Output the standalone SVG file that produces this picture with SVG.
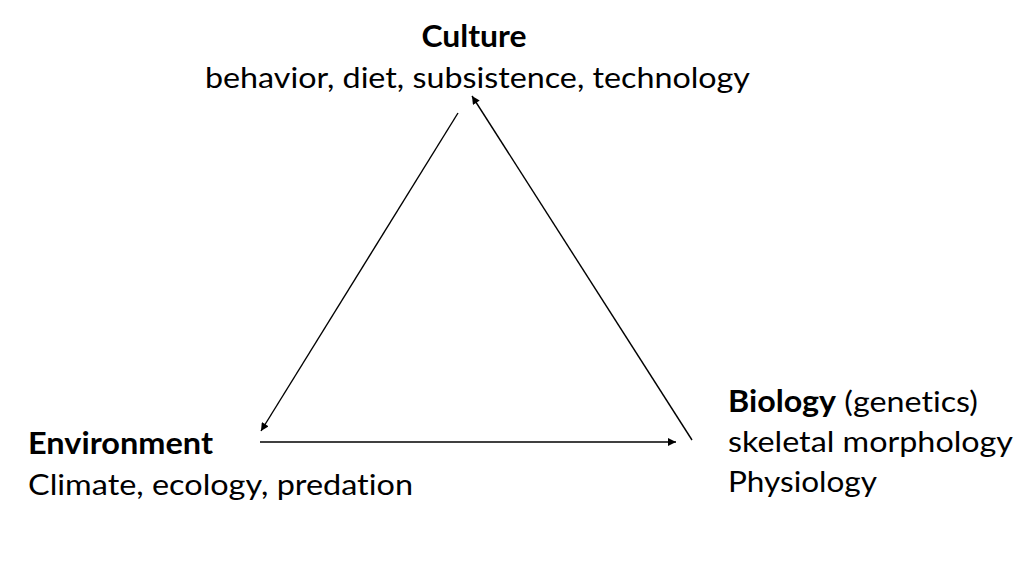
<svg xmlns="http://www.w3.org/2000/svg" width="1017" height="568" viewBox="0 0 1017 568">
<style>
text{font-family:Lato,"Open Sans","Liberation Sans",sans-serif;font-size:29.5px;fill:#000;font-variant-ligatures:none}
.b{font-weight:bold}
.c{stroke:#000;stroke-width:1.4;fill:none}
</style>
<defs>
<marker id="ah" viewBox="0 0 10 10" refX="10" refY="5" markerWidth="9" markerHeight="8" orient="auto" markerUnits="userSpaceOnUse">
<path d="M0,0 L10,5 L0,10 z" fill="#000"/>
</marker>
</defs>
<rect width="1017" height="568" fill="#fff"/>
<g id="culture">
<text x="474" y="47" text-anchor="middle" class="b" textLength="105" lengthAdjust="spacingAndGlyphs">Culture</text>
<text x="205" y="88" textLength="545" lengthAdjust="spacingAndGlyphs">behavior, diet, subsistence, technology</text>
</g>
<g id="environment">
<text x="28" y="454" class="b" textLength="185" lengthAdjust="spacingAndGlyphs">Environment</text>
<text x="28" y="495" textLength="385" lengthAdjust="spacingAndGlyphs">Climate, ecology, predation</text>
</g>
<g id="biology">
<text x="728" y="412" textLength="250" lengthAdjust="spacingAndGlyphs"><tspan class="b">Biology</tspan> (genetics)</text>
<text x="728" y="452" textLength="285" lengthAdjust="spacingAndGlyphs">skeletal morphology</text>
<text x="728" y="492" textLength="149" lengthAdjust="spacingAndGlyphs">Physiology</text>
</g>
<g id="connectors">
<line class="c" x1="458" y1="113" x2="261" y2="431" marker-end="url(#ah)"/>
<line class="c" x1="692" y1="440" x2="472" y2="96" marker-end="url(#ah)"/>
<line class="c" x1="260" y1="442" x2="676" y2="442" marker-end="url(#ah)"/>
</g>
</svg>
